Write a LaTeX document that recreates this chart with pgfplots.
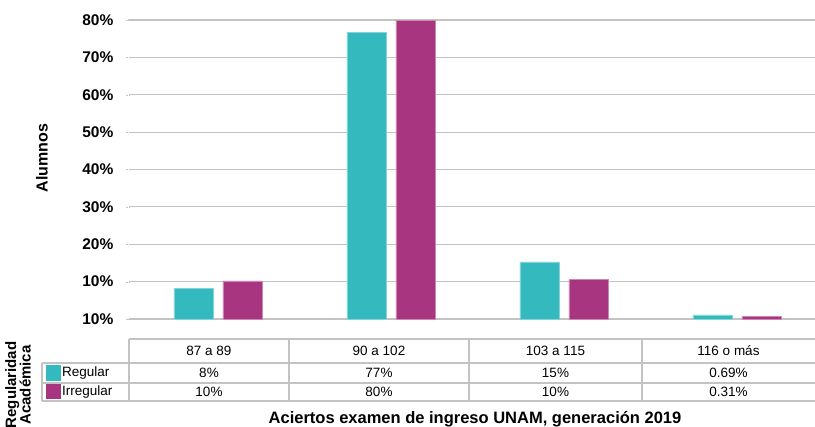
\documentclass[border=0pt]{standalone}
\usepackage{pgfplots}
\pgfplotsset{compat=1.18}
\usepackage{fontspec}
\setmainfont{Liberation Sans}
\definecolor{cReg}{RGB}{51,185,190}
\definecolor{cIrr}{RGB}{168,53,128}
\definecolor{tabc}{RGB}{195,195,195}
\begin{document}
\begin{tikzpicture}
\path[use as bounding box] (0pt,0pt) rectangle (815pt,427pt);
\begin{axis}[
  at={(128pt,108pt)}, anchor=south west,
  scale only axis, width=687pt, height=299pt,
  xmin=-0.52, xmax=3.451, ymin=0, ymax=80,
  axis x line=none,
  axis y line=left,
  y axis line style={white},
  tick style={tabc},
  ymajorgrids,
  grid style={tabc, line width=1.2pt},
  ybar=10pt, bar width=39pt,
  ytick={0,10,20,30,40,50,60,70,80},
  yticklabels={10\%,10\%,20\%,30\%,40\%,50\%,60\%,70\%,80\%},
  yticklabel style={font=\fontsize{15.5}{18}\selectfont\bfseries, xshift=-9pt},
  /pgf/number format/assume math mode=true,
  xtick=\empty,
  clip=false,
]
\addplot[fill=cReg, draw=cReg!60!white, line width=0.6pt] coordinates {(0,8.2) (1,76.7) (2,15.25) (3,1.07)};
\addplot[fill=cIrr, draw=cIrr!60!white, line width=0.6pt] coordinates {(0,10.2) (1,79.8) (2,10.5) (3,0.7)};
\end{axis}
\begin{scope}[x=1pt,y=1pt]
% table lines (y' = 427 - y)
\draw[tabc, line width=1.2pt] (129,88) -- (815,88);
\draw[tabc, line width=1.2pt] (42,64) -- (815,64);
\draw[tabc, line width=1.2pt] (42,44) -- (815,44);
\draw[tabc, line width=1.2pt] (42,26) -- (815,26);
\draw[tabc, line width=1.2pt] (42,64) -- (42,26);
\draw[tabc, line width=1.2pt] (129,88) -- (129,26);
\draw[tabc, line width=1.2pt] (289,88) -- (289,26);
\draw[tabc, line width=1.2pt] (469,88) -- (469,26);
\draw[tabc, line width=1.2pt] (642,88) -- (642,26);
% legend keys
\fill[cReg] (46,46) rectangle (61,62);
\fill[cIrr] (46,27.5) rectangle (61,42.5);
\node[anchor=west, inner sep=0pt, font=\fontsize{13.5}{15}\selectfont] at (62,53.5) {Regular};
\node[anchor=west, inner sep=0pt, font=\fontsize{13.5}{15}\selectfont] at (62,35) {Irregular};
% header and rows
\foreach \x/\t in {209/87 a 89, 379/90 a 102, 555.5/103 a 115, 728.5/116 o más}
  \node[font=\fontsize{13.5}{15}\selectfont, inner sep=0pt] at (\x,76) {\t};
\foreach \x/\t in {209/8\%, 379/77\%, 555.5/15\%, 728.5/0.69\%}
  \node[font=\fontsize{13.5}{15}\selectfont, inner sep=0pt] at (\x,54) {\t};
\foreach \x/\t in {209/10\%, 379/80\%, 555.5/10\%, 728.5/0.31\%}
  \node[font=\fontsize{13.5}{15}\selectfont, inner sep=0pt] at (\x,35) {\t};
% labels
\node[rotate=90, font=\fontsize{16}{18}\selectfont\bfseries, inner sep=0pt] at (42,269) {Alumnos};
\node[rotate=90, font=\fontsize{15}{14.5}\selectfont\bfseries, inner sep=0pt, align=center] at (18,42) {Regularidad\\Académica};
\node[font=\fontsize{16.5}{18}\selectfont\bfseries, inner sep=0pt, anchor=base] at (475,3) {Aciertos examen de ingreso UNAM, generación 2019};
\end{scope}
\end{tikzpicture}
\end{document}
